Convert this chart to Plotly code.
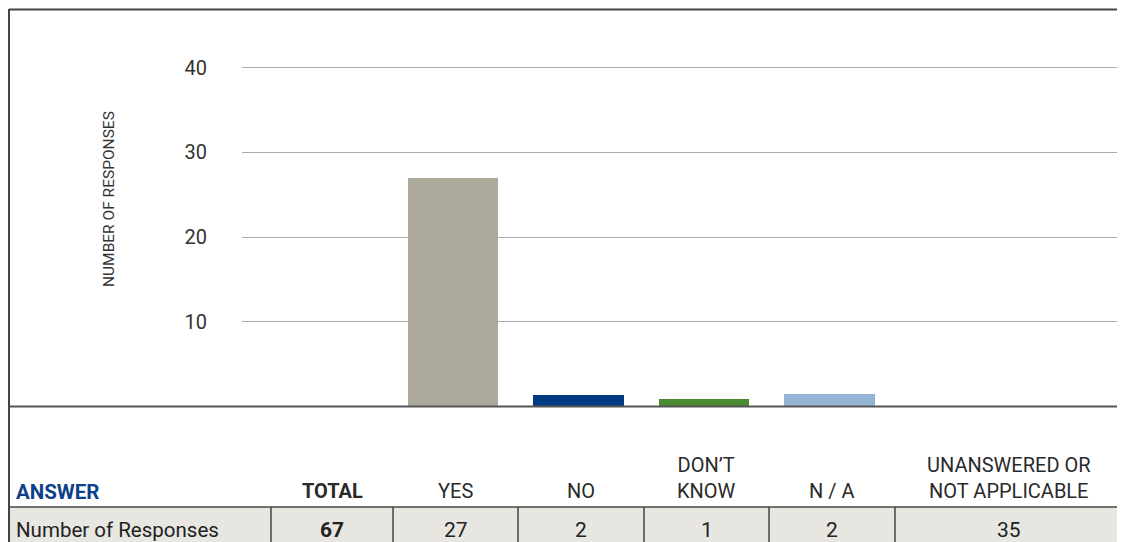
import plotly.graph_objects as go

# ---- data ----
categories = ["YES", "NO", "DON’T KNOW", "N / A"]
bar_heights = [27, 1.35, 0.85, 1.45]          # heights as drawn in the chart
bar_colors = ["#adaa9b", "#003b84", "#4b8b2f", "#94b3d5"]
y_ticks = [10, 20, 30, 40]

table_headers = ["ANSWER", "TOTAL", "YES", "NO", "DON’T<br>KNOW", "N / A", "UNANSWERED OR<br>NOT APPLICABLE"]
table_row = ["Number of Responses", "67", "27", "2", "1", "2", "35"]

# ---- layout constants (pixels, in page coordinates) ----
OFF = 8                      # page body margin of the html page
W, H = 1125 - OFF, 542 - OFF
FONT = "Roboto, Liberation Sans, Arial, sans-serif"
col_edges = [7, 271, 393, 518, 644, 769, 895, 1123]
row_top, row_bot = 507, 542
plot_left, plot_right = 242, 1123
y0_px, ytop_px = 406.5, 9
px_per_unit = 8.475
cat_center0, cat_step = 453, 125.5


def xp(px):
    return (px - OFF) / W


def yp(py):
    return 1 - (py - OFF) / H


fig = go.Figure()
fig.add_trace(go.Bar(
    x=list(range(len(categories))),
    y=bar_heights,
    marker=dict(color=bar_colors, line=dict(width=0)),
    width=0.725,
    hovertext=categories,
    showlegend=False,
))

yrange_top = (y0_px - ytop_px) / px_per_unit
xr0 = (plot_left - cat_center0) / cat_step
xr1 = (plot_right - cat_center0) / cat_step

shapes = []
# table row background
shapes.append(dict(type="rect", xref="paper", yref="paper", x0=xp(col_edges[0]), x1=xp(col_edges[-1]),
                   y0=yp(row_bot + 2), y1=yp(row_top), fillcolor="#e7e6e1", line=dict(width=0), layer="below"))
# table top line
shapes.append(dict(type="line", xref="paper", yref="paper", x0=xp(col_edges[0]), x1=xp(col_edges[-1]),
                   y0=yp(row_top), y1=yp(row_top), line=dict(color="#444444", width=1.5)))
# column dividers
for e in col_edges[1:-1]:
    shapes.append(dict(type="line", xref="paper", yref="paper", x0=xp(e), x1=xp(e),
                       y0=yp(row_top), y1=yp(row_bot + 2), line=dict(color="#444444", width=1.5)))
# baseline
shapes.append(dict(type="line", xref="paper", yref="paper", x0=xp(9), x1=xp(1123),
                   y0=yp(y0_px), y1=yp(y0_px), line=dict(color="#555555", width=2)))
# outer frame
shapes.append(dict(type="line", xref="paper", yref="paper", x0=xp(9), x1=xp(1123),
                   y0=yp(9.5), y1=yp(9.5), line=dict(color="#444444", width=2)))
shapes.append(dict(type="line", xref="paper", yref="paper", x0=xp(9), x1=xp(9),
                   y0=yp(9), y1=yp(545), line=dict(color="#444444", width=2)))
shapes.append(dict(type="line", xref="paper", yref="paper", x0=xp(1123), x1=xp(1123),
                   y0=yp(9), y1=yp(545), line=dict(color="#bbbbbb", width=1.5)))

annotations = []
# y-axis title
annotations.append(dict(text="NUMBER OF RESPONSES", xref="paper", yref="paper", x=xp(109), y=yp(199),
                        textangle=-90, showarrow=False, xanchor="center", yanchor="middle",
                        font=dict(family=FONT, size=15.5, color="#333333")))
# header row
for i, h in enumerate(table_headers):
    if i == 0:
        annotations.append(dict(text="<b>%s</b>" % h, xref="paper", yref="paper", x=xp(14), y=yp(506),
                                xanchor="left", yanchor="bottom", showarrow=False,
                                font=dict(family=FONT, size=20.5, color="#0e3f8c")))
    else:
        cx = (col_edges[i] + col_edges[i + 1]) / 2
        txt = "<b>%s</b>" % h if i == 1 else h
        annotations.append(dict(text=txt, xref="paper", yref="paper", x=xp(cx), y=yp(505),
                                xanchor="center", yanchor="bottom", showarrow=False,
                                font=dict(family=FONT, size=20, color="#2a2a2a")))
# value row
for i, v in enumerate(table_row):
    if i == 0:
        annotations.append(dict(text=v, xref="paper", yref="paper", x=xp(14), y=yp(530),
                                xanchor="left", yanchor="middle", showarrow=False,
                                font=dict(family=FONT, size=20.5, color="#222222")))
    else:
        cx = (col_edges[i] + col_edges[i + 1]) / 2
        txt = "<b>%s</b>" % v if i == 1 else v
        annotations.append(dict(text=txt, xref="paper", yref="paper", x=xp(cx), y=yp(530),
                                xanchor="center", yanchor="middle", showarrow=False,
                                font=dict(family=FONT, size=21, color="#222222")))

fig.update_layout(
    width=W, height=H,
    margin=dict(l=0, r=0, t=0, b=0),
    paper_bgcolor="white", plot_bgcolor="white",
    bargap=0,
    xaxis=dict(domain=[xp(plot_left), xp(plot_right)], range=[xr0, xr1], showticklabels=False,
               showgrid=False, zeroline=False, showline=False, ticks=""),
    yaxis=dict(domain=[yp(y0_px), yp(ytop_px)], range=[0, yrange_top], tickvals=y_ticks,
               showgrid=True, gridcolor="#ababab", gridwidth=1, zeroline=False, showline=False,
               ticks="", ticklabelstandoff=34,
               tickfont=dict(family=FONT, size=20, color="#333333")),
    shapes=shapes,
    annotations=annotations,
)

fig.write_html("out.html")
